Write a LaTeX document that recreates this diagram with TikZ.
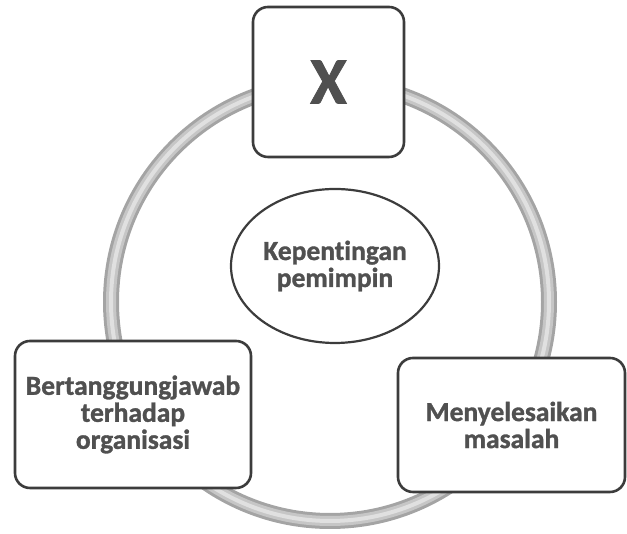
\documentclass[tikz,border=0pt]{standalone}
\usepackage{fontspec}
\setmainfont{Carlito}[Ligatures=NoCommon,BoldFeatures={FakeBold=1.2}]
\usetikzlibrary{shapes.geometric}
\definecolor{boxline}{HTML}{3C3C3C}
\definecolor{txt}{HTML}{505050}
\definecolor{ringA}{HTML}{A4A4A4}
\definecolor{ringB}{HTML}{C6C6C6}
\definecolor{ringC}{HTML}{E0E0E0}
\begin{document}
\begin{tikzpicture}[x=1pt,y=1pt,
  lbl/.style={inner sep=0pt, align=center, text=txt, font=\bfseries\fontsize{27.5}{27}\selectfont},
  box/.style={lbl, draw=boxline, line width=2.6pt, rounded corners=15pt, fill=white},
  oval/.style={lbl, ellipse, draw=boxline, line width=2.2pt, fill=white}]
\useasboundingbox (0,0) rectangle (627,534);
\coordinate (c) at (330,232);
\draw[ringA, line width=16pt] (c) circle (219);
\draw[ringB, line width=10pt] (c) circle (219);
\draw[ringC, line width=4pt] (c) circle (219);
\node[oval, minimum width=208pt, minimum height=154pt] (center) at (335,268) {Kepentingan\\pemimpin};
\node[box, minimum width=151pt, minimum height=150pt, font=\bfseries\fontsize{66}{66}\selectfont] (x) at (328.5,452) {X};
\node[box, minimum width=236pt, minimum height=147pt] (left) at (133,119.5) {Bertanggungjawab\\terhadap\\organisasi};
\node[box, minimum width=227pt, minimum height=134pt] (right) at (511.5,109) {Menyelesaikan\\masalah};
\end{tikzpicture}
\end{document}
